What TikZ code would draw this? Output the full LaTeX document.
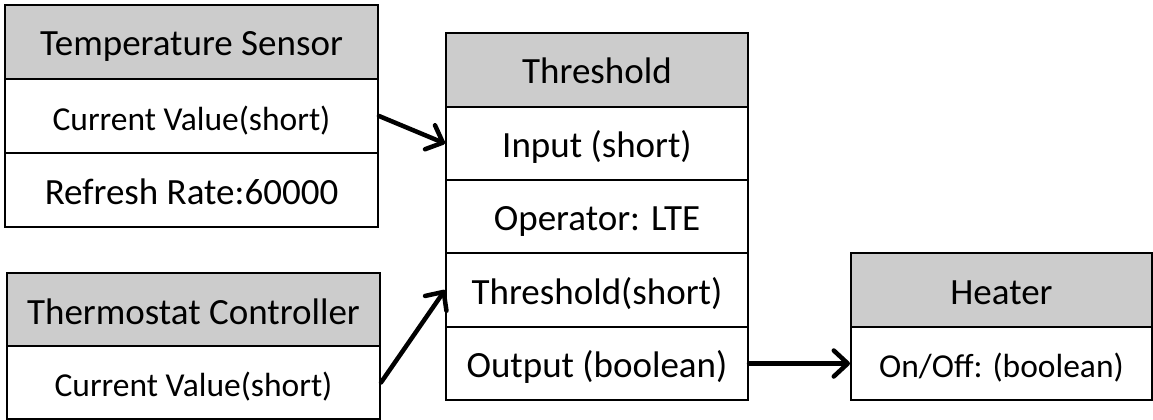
\documentclass[tikz,border=0pt]{standalone}
\usepackage{fontspec}
\setmainfont{Carlito}
\usetikzlibrary{arrows.meta}
\definecolor{hdrgray}{RGB}{204,204,204}
\tikzset{
  cell/.style={draw=black, line width=2pt, fill=white, inner sep=0pt,
    text height=28pt, text depth=0pt, font=\fontsize{37}{40}\selectfont},
  hdr/.style={cell, fill=hdrgray},
  small/.style={font=\fontsize{33.5}{36}\selectfont},
  link/.style={line width=4.5pt, line cap=round,
    -{Straight Barb[length=14pt, width=26pt, line width=4.5pt, line cap=round, round]}}
}
\begin{document}
\begin{tikzpicture}[x=1pt, y=-1pt]
\useasboundingbox (0,0) rectangle (1153,420);

% Temperature Sensor
\node[hdr, minimum width=373pt, minimum height=74pt] (ts) at (191.5,42) {Temperature Sensor};
\node[cell, small, minimum width=373pt, minimum height=74pt] (tsval) at (191.5,116) {Current Value(short)};
\node[cell, minimum width=373pt, minimum height=74pt] (tsrate) at (191.5,190) {Refresh Rate:60000};

% Thermostat Controller
\node[hdr, minimum width=373pt, minimum height=74pt] (tc) at (193.5,310) {Thermostat Controller};
\node[cell, small, minimum width=373pt, minimum height=73pt] (tcval) at (193.5,382.5) {Current Value(short)};

% Threshold
\node[hdr, minimum width=302pt, minimum height=74pt] (th) at (597,70) {Threshold};
\node[cell, minimum width=302pt, minimum height=73pt] (thin) at (597,143.5) {Input (short)};
\node[cell, minimum width=302pt, minimum height=73pt] (thop) at (597,216.5) {Operator: LTE};
\node[cell, minimum width=302pt, minimum height=74pt] (thlim) at (597,290) {Threshold(short)};
\node[cell, minimum width=302pt, minimum height=73pt] (thout) at (597,363.5) {Output (boolean)};

% Heater
\node[hdr, minimum width=301pt, minimum height=74pt] (ht) at (1001.5,290) {Heater};
\node[cell, small, minimum width=301pt, minimum height=73pt] (htsw) at (1001.5,363.5) {On/Off: (boolean)};

% connections
\draw[link] (tsval.east) -- (thin.west);
\draw[link] (tcval.east) -- (thlim.west);
\draw[link] (thout.east) -- (htsw.west);
\end{tikzpicture}
\end{document}
